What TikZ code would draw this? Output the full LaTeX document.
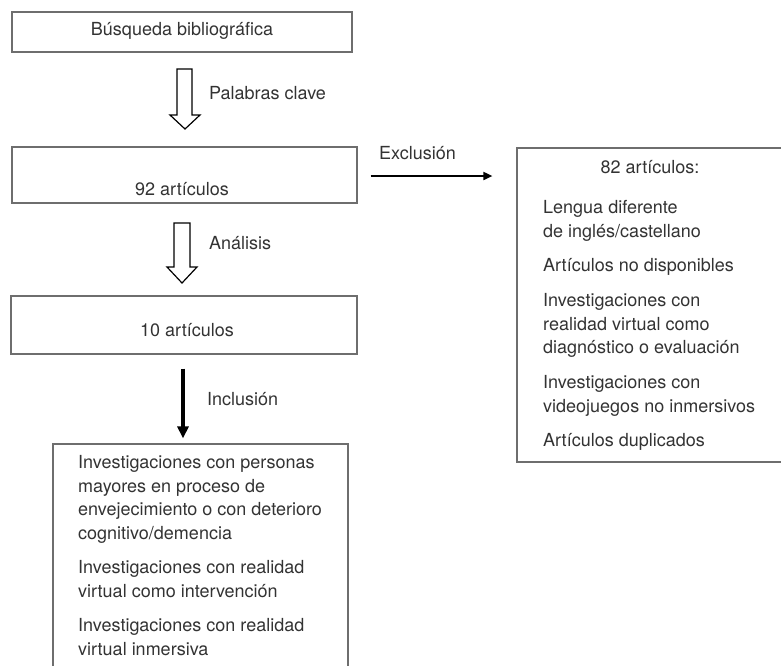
\documentclass[tikz,border=0pt]{standalone}
\usepackage{fontspec}
\setmainfont{TeX Gyre Heros}
\usetikzlibrary{arrows.meta}
\definecolor{txt}{HTML}{333333}
\definecolor{bord}{HTML}{6E6E6E}
\begin{document}
\begin{tikzpicture}[x=1pt,y=-1pt,
  box/.style={draw=bord, line width=1.2pt, inner sep=0pt},
  lbl/.style={text=txt, inner sep=0pt, font=\fontsize{18}{23.7}\selectfont},
  para/.style={lbl, align=left, anchor=north west},
  hollow/.style={draw=black, line width=1.2pt, fill=white, line join=miter},
  solidarrow/.style={draw=black, line width=3.2pt, -{Triangle[width=11pt,length=12pt]}},
  thinarrow/.style={draw=black, line width=1.8pt, -{Triangle[width=8pt,length=9pt]}},
]
\useasboundingbox (0,0) rectangle (781,665);
\clip (0,0) rectangle (781,665);
% boxes
\node[box, minimum width=340, minimum height=40] (b1) at (182,32) {};
\node[box, minimum width=345, minimum height=56] (b2) at (184.5,175) {};
\node[box, minimum width=346, minimum height=58] (b3) at (184,325) {};
\node[box, minimum width=283, minimum height=314] (b4) at (658.5,305) {};
\node[box, minimum width=295, minimum height=256] (b5) at (200.5,572) {};
% box texts
\node[lbl] (tb1) at (182,31) {Búsqueda bibliográfica};
\node[lbl] (tb2) at (182,189) {92 artículos};
\node[lbl] (tb3) at (187,330) {10 artículos};
\node[lbl] (tb4) at (650,167) {82 artículos:};
\node[para] (tb4items) at (543,200) {Lengua diferente\\de inglés/castellano\\[11pt]Artículos no disponibles\\[11pt]Investigaciones con\\realidad virtual como\\diagnóstico o evaluación\\[11pt]Investigaciones con\\videojuegos no inmersivos\\[11pt]Artículos duplicados};
\node[para] (tb5items) at (78,455) {Investigaciones con personas\\mayores en proceso de\\envejecimiento o con deterioro\\cognitivo/demencia\\[10.5pt]Investigaciones con realidad\\virtual como intervención\\[10.5pt]Investigaciones con realidad\\virtual inmersiva};
% connector labels
\node[lbl, anchor=west] (lpal) at (209,93) {Palabras clave};
\node[lbl, anchor=west] (lana) at (209,243) {Análisis};
\node[lbl, anchor=west] (linc) at (207,399) {Inclusión};
\node[lbl, anchor=west] (lexc) at (379,153) {Exclusión};
% hollow arrows
\draw[hollow] (177,69) -- (192,69) -- (192,115) -- (200,115) -- (185,129) -- (170,115) -- (177,115) -- cycle;
\draw[hollow] (174,223) -- (190,223) -- (190,267) -- (197,267) -- (182,283) -- (167,267) -- (174,267) -- cycle;
% solid arrows
\draw[solidarrow, shorten <=14pt, shorten >=5pt] ([xshift=-1pt]b3.south) -- ([xshift=-1pt]b3.south |- b5.north);
\draw[thinarrow, shorten <=13pt, shorten >=24pt] ([yshift=-1pt]b2.east) -- ([yshift=-1pt]b2.east -| b4.west);
\end{tikzpicture}
\end{document}
